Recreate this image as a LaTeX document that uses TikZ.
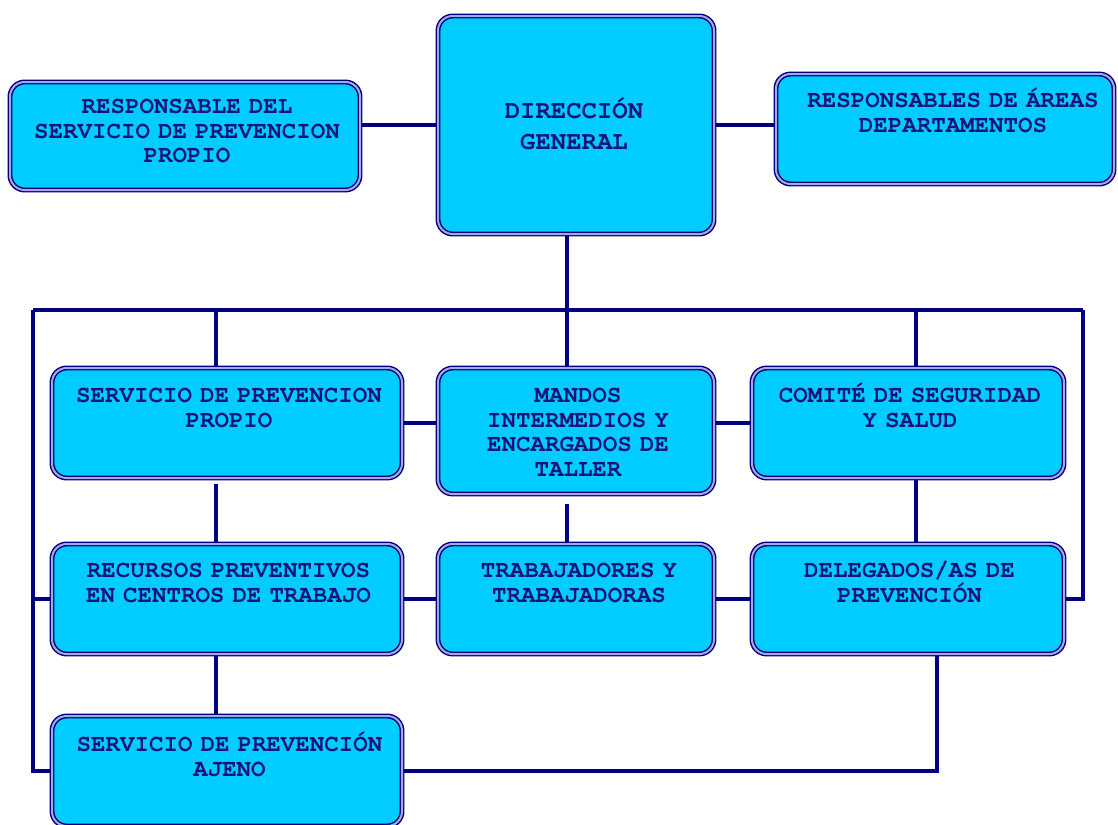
\documentclass[tikz,border=0pt]{standalone}
\usepackage{fontspec}
\setmonofont{TeX Gyre Cursor}
\usetikzlibrary{backgrounds}

\definecolor{celeste}{HTML}{00CCFF}
\definecolor{marino}{HTML}{000080}
\definecolor{lavanda}{HTML}{A8A8E0}
\definecolor{tinta}{HTML}{14147A}

\tikzset{
  caja/.style 2 args={draw=marino, double=lavanda, double distance=1.5pt,
    line width=1.1pt, fill=celeste, rounded corners=11pt,
    minimum width=#1*0.75pt, minimum height=#2*0.75pt, inner sep=0pt},
  texto/.style={text=tinta, inner sep=0pt, anchor=base, align=center,
    text width=250pt, font=\ttfamily\bfseries\fontsize{18.1}{18.4}\selectfont},
  linea/.style={draw=marino, line width=3pt},
}

\begin{document}
\begin{tikzpicture}[x=0.75pt, y=-0.75pt]
\useasboundingbox (0,0) rectangle (1118,825);

% cajas
\node[caja={350}{108}] (rsp) at (185,136) {};
\node[caja={276}{218}] (dg)  at (576,125) {};
\node[caja={338}{110}] (ra)  at (945,129) {};
\node[caja={350}{110}] (spp) at (227,423) {};
\node[caja={276}{126}] (mi)  at (576,431) {};
\node[caja={312}{110}] (css) at (908,423) {};
\node[caja={350}{110}] (rp)  at (227,599) {};
\node[caja={276}{110}] (tt)  at (576,599) {};
\node[caja={312}{110}] (del) at (908,599) {};
\node[caja={350}{110}] (spa) at (227,771) {};

% textos
\node[texto] (t-rsp) at (187,113.5) {RESPONSABLE DEL\\SERVICIO DE PREVENCION\\PROPIO};
\node[texto, anchor=center, font=\ttfamily\bfseries\fontsize{19.2}{23.25}\selectfont]
     (t-dg) at (574,124) {DIRECCIÓN\\GENERAL};
\node[texto] (t-ra)  at (953,107.5) {RESPONSABLES DE ÁREAS\\DEPARTAMENTOS};
\node[texto] (t-spp) at (229,402.5) {SERVICIO DE PREVENCION\\PROPIO};
\node[texto] (t-mi)  at (578,402.5) {MANDOS\\INTERMEDIOS Y\\ENCARGADOS DE\\TALLER};
\node[texto] (t-css) at (910,402.5) {COMITÉ DE SEGURIDAD\\Y SALUD};
\node[texto] (t-rp)  at (228.5,577.5) {RECURSOS PREVENTIVOS\\EN CENTROS DE TRABAJO};
\node[texto] (t-tt)  at (579,577.5) {TRABAJADORES Y\\TRABAJADORAS};
\node[texto] (t-del) at (909.5,577.5) {DELEGADOS/AS DE\\PREVENCIÓN};
\node[texto] (t-spa) at (229.5,751.5) {SERVICIO DE PREVENCIÓN\\AJENO};

% puntos de la barra
\coordinate (bl) at (33,310);
\coordinate (br) at (1083,310);
\coordinate (b1) at (216,310);
\coordinate (b2) at (567,310);
\coordinate (b3) at (916,310);
\coordinate (dj) at (937,773);

\begin{pgfonlayer}{background}
\draw[linea] (dg.west) -- (dg.west -| rsp.east);
\draw[linea] (dg.east) -- (dg.east -| ra.west);
\draw[linea] (b2 |- dg.south) -- (b2);
\draw[linea] (bl) -- (br);
\draw[linea] (b1) -- (b1 |- spp.north);
\draw[linea] (b2) -- (b2 |- mi.north);
\draw[linea] (b3) -- (b3 |- css.north);
\draw[linea] (bl) |- (spa.west);
\draw[linea] (bl |- rp.west) -- (rp.west);
\draw[linea] (br) |- (del.east);
\draw[linea] (spp.east) -- (spp.east -| mi.west);
\draw[linea] (css.west) -- (css.west -| mi.east);
\draw[linea, shorten <=4pt] (b1 |- spp.south) -- (b1 |- rp.north);
\draw[linea, shorten <=7pt] (b2 |- mi.south) -- (b2 |- tt.north);
\draw[linea] (b3 |- css.south) -- (b3 |- del.north);
\draw[linea] (rp.east) -- (tt.west);
\draw[linea] (tt.east) -- (del.west);
\draw[linea] (b1 |- rp.south) -- (b1 |- spa.north);
\draw[linea] (spa.east) -| (dj |- del.south);
\end{pgfonlayer}
\end{tikzpicture}
\end{document}
